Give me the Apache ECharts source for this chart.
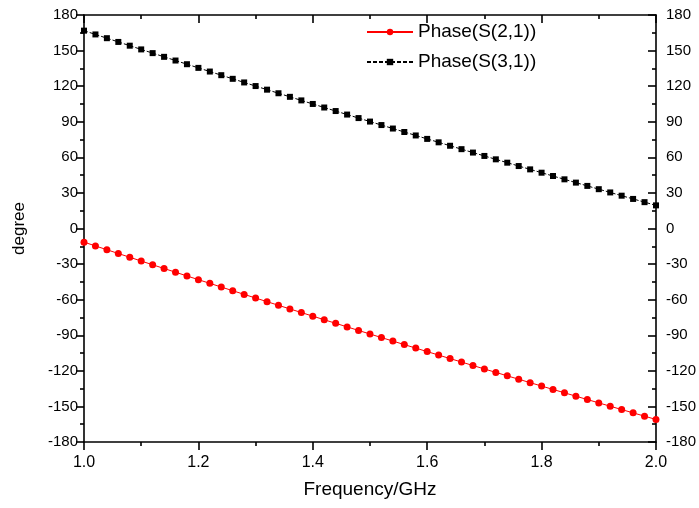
<!DOCTYPE html>
<html>
<head>
<meta charset="utf-8">
<script src="https://cdn.jsdelivr.net/npm/echarts@6/dist/echarts.min.js"></script>
<style>
html,body{margin:0;padding:0;background:#fff;}
#c{width:699px;height:508px;}
</style>
</head>
<body>
<div id="c"></div>
<script>
var freq = [1.00,1.02,1.04,1.06,1.08,1.10,1.12,1.14,1.16,1.18,1.20,1.22,1.24,1.26,1.28,1.30,1.32,1.34,1.36,1.38,1.40,1.42,1.44,1.46,1.48,1.50,1.52,1.54,1.56,1.58,1.60,1.62,1.64,1.66,1.68,1.70,1.72,1.74,1.76,1.78,1.80,1.82,1.84,1.86,1.88,1.90,1.92,1.94,1.96,1.98,2.00];
var phaseS21 = [-11.5,-14.7,-17.89,-21.08,-24.25,-27.42,-30.58,-33.73,-36.87,-40.0,-43.13,-46.24,-49.35,-52.45,-55.54,-58.62,-61.69,-64.75,-67.81,-70.85,-73.89,-76.92,-79.94,-82.95,-85.96,-88.95,-91.94,-94.91,-97.88,-100.84,-103.79,-106.73,-109.67,-112.59,-115.51,-118.42,-121.32,-124.21,-127.09,-129.96,-132.83,-135.68,-138.53,-141.37,-144.2,-147.02,-149.84,-152.64,-155.44,-158.22,-161.0];
var phaseS31 = [166.8,163.62,160.45,157.29,154.13,150.99,147.86,144.73,141.62,138.51,135.42,132.33,129.26,126.19,123.14,120.09,117.05,114.03,111.01,108.0,105.0,102.01,99.03,96.06,93.1,90.15,87.21,84.28,81.36,78.44,75.54,72.65,69.76,66.89,64.02,61.17,58.32,55.49,52.66,49.85,47.04,44.24,41.46,38.68,35.91,33.15,30.4,27.66,24.93,22.21,19.5];
var seriesNames = ['Phase(S(2,1))','Phase(S(3,1))'];
var xTitle = 'Frequency/GHz';
var yTitle = 'degree';

function pairs(xs, ys){ return xs.map(function(x,i){ return [x, ys[i]]; }); }

var FONT = "'Liberation Sans', Arial, sans-serif";
var axisLineStyle = {color:'#000', width:1.6};

var chart = echarts.init(document.getElementById('c'), null, {renderer:'canvas'});
chart.setOption({
  animation:false,
  backgroundColor:'#fff',
  grid:{left:84, right:42, top:15, bottom:66, containLabel:false},
  legend:{
    orient:'vertical', left:361, top:17, itemWidth:46, itemHeight:8, itemGap:10,
    textStyle:{fontFamily:FONT, fontSize:19, color:'#000', lineHeight:20},
    data:seriesNames
  },
  xAxis:[{
    type:'value', min:1, max:2, interval:0.2, position:'bottom',
    name:xTitle, nameLocation:'middle', nameGap:38,
    nameTextStyle:{fontFamily:FONT, fontSize:19, color:'#000'},
    axisLine:{show:true, onZero:false, lineStyle:axisLineStyle},
    axisTick:{show:true, inside:false, length:8, lineStyle:axisLineStyle},
    minorTick:{show:true, splitNumber:2, length:4, lineStyle:axisLineStyle},
    axisLabel:{fontFamily:FONT, fontSize:16, color:'#000', margin:13, formatter:function(v){return v.toFixed(1);}},
    splitLine:{show:false}
  },{
    type:'value', min:1, max:2, interval:0.2, position:'top',
    axisLine:{show:true, onZero:false, lineStyle:axisLineStyle},
    axisTick:{show:true, inside:true, length:8, lineStyle:axisLineStyle},
    minorTick:{show:true, splitNumber:2, length:4, lineStyle:axisLineStyle},
    axisLabel:{show:false}, splitLine:{show:false}
  }],
  yAxis:[{
    type:'value', min:-180, max:180, interval:30, position:'left',
    name:yTitle, nameLocation:'middle', nameGap:56, nameRotate:90,
    nameTextStyle:{fontFamily:FONT, fontSize:17, color:'#000'},
    axisLine:{show:true, onZero:false, lineStyle:axisLineStyle},
    axisTick:{show:true, inside:false, length:8, lineStyle:axisLineStyle},
    minorTick:{show:true, splitNumber:2, length:4, lineStyle:axisLineStyle},
    axisLabel:{fontFamily:FONT, fontSize:15, color:'#000', margin:6},
    splitLine:{show:false}
  },{
    type:'value', min:-180, max:180, interval:30, position:'right',
    axisLine:{show:true, onZero:false, lineStyle:axisLineStyle},
    axisTick:{show:true, inside:true, length:8, lineStyle:axisLineStyle},
    minorTick:{show:true, splitNumber:2, length:4, lineStyle:axisLineStyle},
    axisLabel:{fontFamily:FONT, fontSize:15, color:'#000', margin:10},
    splitLine:{show:false}
  }],
  series:[{
    name:seriesNames[0], type:'line', xAxisIndex:0, yAxisIndex:0,
    data:pairs(freq, phaseS21),
    symbol:'circle', symbolSize:7, showAllSymbol:true,
    lineStyle:{color:'#ff0000', width:1},
    itemStyle:{color:'#ff0000'}
  },{
    name:seriesNames[1], type:'line', xAxisIndex:0, yAxisIndex:0,
    data:pairs(freq, phaseS31),
    symbol:'rect', symbolSize:6, showAllSymbol:true,
    lineStyle:{color:'#000', width:1, type:[4,2]},
    itemStyle:{color:'#000'}
  }]
});
</script>
</body>
</html>
